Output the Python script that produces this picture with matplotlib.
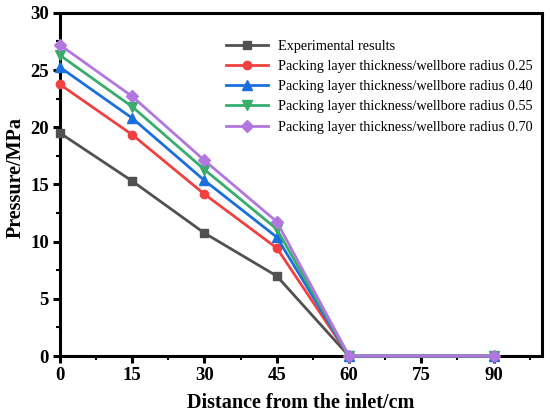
import matplotlib
matplotlib.use("Agg")
import matplotlib.pyplot as plt
from matplotlib.ticker import MultipleLocator

plt.rcParams["font.family"] = ["Liberation Serif", "DejaVu Serif"]

distance = [0, 15, 30, 45, 60, 90]
experimental = [19.5, 15.3, 10.75, 7.0, 0.0, 0.0]
ratio_025 = [23.75, 19.35, 14.15, 9.45, 0.0, 0.0]
ratio_040 = [25.25, 20.8, 15.35, 10.4, 0.0, 0.0]
ratio_055 = [26.3, 21.8, 16.3, 11.1, 0.0, 0.0]
ratio_070 = [27.2, 22.7, 17.1, 11.75, 0.0, 0.0]

series = [
    ("Experimental results", experimental, "#515151", "s", 5.5),
    ("Packing layer thickness/wellbore radius 0.25", ratio_025, "#F14040", "o", 6),
    ("Packing layer thickness/wellbore radius 0.40", ratio_040, "#1A6FDF", "^", 6.5),
    ("Packing layer thickness/wellbore radius 0.55", ratio_055, "#37AD6B", "v", 6.5),
    ("Packing layer thickness/wellbore radius 0.70", ratio_070, "#B177DE", "D", 6),
]

fig = plt.figure(figsize=(5.5, 4.16), dpi=100)
ax = fig.add_axes([0.109, 0.144, 0.876, 0.825])

for label, vals, color, marker, ms in series:
    ax.plot(distance, vals, color=color, marker=marker, markersize=ms,
            linewidth=2, label=label, clip_on=False, zorder=3)

ax.set_xlim(0, 100)
ax.set_ylim(0, 30)
ax.xaxis.set_major_locator(MultipleLocator(15))
ax.xaxis.set_minor_locator(MultipleLocator(7.5))
ax.yaxis.set_major_locator(MultipleLocator(5))
ax.yaxis.set_minor_locator(MultipleLocator(2.5))
ax.set_xticks([0, 15, 30, 45, 60, 75, 90])

for sp in ax.spines.values():
    sp.set_linewidth(2.2)
ax.tick_params(which="major", direction="out", length=5, width=2.2,
               labelsize=13.5, pad=3)
ax.tick_params(which="minor", direction="out", length=3, width=1.5)
for t in ax.get_xticklabels() + ax.get_yticklabels():
    t.set_fontweight("bold")

ax.set_xlabel("Distance from the inlet/cm", fontsize=14.5, fontweight="bold",
              labelpad=6)
ax.set_ylabel("Pressure/MPa", fontsize=14.5, fontweight="bold")
ax.yaxis.set_label_coords(-0.071, 0.52)

ax.legend(loc="upper left", bbox_to_anchor=(0.333, 0.938), frameon=False,
          fontsize=10.3, handlelength=2.9, handletextpad=0.7,
          labelspacing=0.5, borderaxespad=0)

fig.savefig("out.png", dpi=100)
